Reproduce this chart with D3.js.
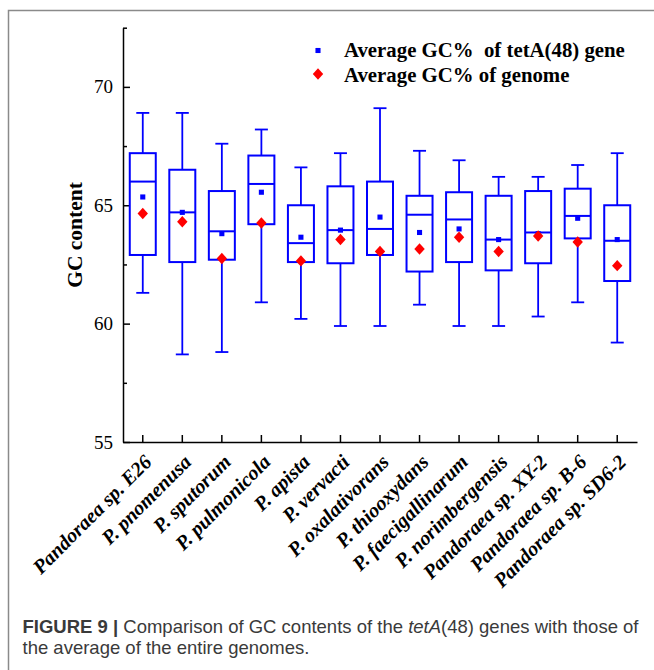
<html>
  <head>
    <title>GC content</title>
    <script src="https://cdnjs.cloudflare.com/ajax/libs/d3/7.8.5/d3.min.js"></script>
  </head>
  <body>
    <svg id="chart"></svg>

    <style>
      body {
        margin: 0;
        background: #fff;
      }

      #chart {
        display: block;
      }

      .axis path, .axis line {
        stroke: #000;
        stroke-width: 1.5px;
      }

      .axis text {
        font-family: 'Liberation Serif', 'Times New Roman', serif;
        fill: #000;
      }

      .axis-y text {
        font-size: 19px;
      }

      .axis-x text {
        font-size: 20.3px;
        font-weight: bold;
        font-style: italic;
      }

      .legend text, .ylabel {
        font-family: 'Liberation Serif', 'Times New Roman', serif;
        font-weight: bold;
        white-space: pre;
      }

      .caption {
        font-family: 'Liberation Sans', Arial, sans-serif;
        font-size: 18.5px;
        fill: #3a3a3a;
      }
    </style>

    <script>
      // Values
      const species = ['Pandoraea sp. E26', 'P. pnomenusa', 'P. sputorum', 'P. pulmonicola', 'P. apista',
        'P. vervacti', 'P. oxalativorans', 'P. thiooxydans', 'P. faecigallinarum', 'P. norimbergensis',
        'Pandoraea sp. XY-2', 'Pandoraea sp. B-6', 'Pandoraea sp. SD6-2'];
      const whiskerLow  = [61.3, 58.7, 58.8, 60.9, 60.2, 59.9, 59.9, 60.8, 59.9, 59.9, 60.3, 60.9, 59.2];
      const q1          = [62.9, 62.6, 62.7, 64.2, 62.6, 62.55, 62.9, 62.2, 62.6, 62.25, 62.55, 63.6, 61.8];
      const median      = [66.0, 64.7, 63.9, 65.9, 63.4, 63.95, 64.0, 64.6, 64.4, 63.55, 63.85, 64.55, 63.5];
      const q3          = [67.2, 66.5, 65.6, 67.1, 65.0, 65.8, 66.0, 65.4, 65.55, 65.4, 65.6, 65.7, 65.0];
      const whiskerHigh = [68.9, 68.9, 67.6, 68.2, 66.6, 67.2, 69.1, 67.3, 66.9, 66.2, 66.2, 66.7, 67.2];
      const meanGene    = [65.35, 64.7, 63.8, 65.55, 63.65, 63.95, 64.5, 63.85, 64.0, 63.55, 63.8, 64.45, 63.55];
      const meanGenome  = [64.65, 64.3, 62.75, 64.25, 62.65, 63.55, 63.05, 63.15, 63.65, 63.05, 63.7, 63.45, 62.45];

      const yMajorTicks = [55, 60, 65, 70];
      const yMinorTicks = [57.5, 62.5, 67.5, 72.5];
      const legendLabels = ['Average GC%  of tetA(48) gene', 'Average GC% of genome'];

      const boxes = species.map((s, i) => ({
        name: s,
        low: whiskerLow[i],
        q1: q1[i],
        median: median[i],
        q3: q3[i],
        high: whiskerHigh[i],
        gene: meanGene[i],
        genome: meanGenome[i]
      }));

      const W = 654, H = 670;
      const blue = '#0000ff', red = '#ff0000';

      const svg = d3.select('#chart')
        .attr('width', W)
        .attr('height', H);

      // Figure frame
      svg.append('path')
        .attr('d', 'M8.5,' + H + 'V10.5H' + W)
        .attr('fill', 'none')
        .attr('stroke', '#8a8a8a')
        .attr('stroke-width', 1.5);

      const x = d3.scaleBand().domain(species).range([123, 637]);
      const y = d3.scaleLinear().domain([55, 72.5]).range([442, 27.7]);

      const boxW = 26, capW = 13;

      // Axes
      svg.append('g')
        .attr('class', 'axis axis-y')
        .attr('transform', 'translate(123,0)')
        .call(d3.axisLeft(y).tickValues(yMajorTicks).tickSizeInner(-7).tickSizeOuter(0).tickPadding(10));

      svg.append('g')
        .attr('class', 'axis axis-y-minor')
        .attr('transform', 'translate(123,0)')
        .call(d3.axisLeft(y).tickValues(yMinorTicks).tickSizeInner(-4).tickSizeOuter(0).tickFormat(''))
        .select('.domain').remove();

      const xAxis = svg.append('g')
        .attr('class', 'axis axis-x')
        .attr('transform', 'translate(0,442)')
        .call(d3.axisBottom(x).tickSizeInner(-7).tickSizeOuter(0));

      xAxis.selectAll('text')
        .attr('text-anchor', 'end')
        .attr('y', 0)
        .attr('dy', '0.71em')
        .attr('transform', 'translate(0,11) rotate(-45)');

      // Y label
      svg.append('text')
        .attr('class', 'ylabel')
        .attr('transform', 'translate(82,235) rotate(-90)')
        .attr('text-anchor', 'middle')
        .style('font-size', '21.5px')
        .text('GC content');

      // Boxes
      const g = svg.append('g')
        .selectAll('g')
        .data(boxes)
        .enter().append('g')
        .attr('transform', d => 'translate(' + (x(d.name) + x.bandwidth() / 2) + ',0)')
        .attr('stroke', blue)
        .attr('fill', 'none');

      g.append('line')
        .attr('x1', 0).attr('x2', 0)
        .attr('y1', d => y(d.high))
        .attr('y2', d => y(d.q3))
        .attr('stroke-width', 1.8);

      g.append('line')
        .attr('x1', 0).attr('x2', 0)
        .attr('y1', d => y(d.q1))
        .attr('y2', d => y(d.low))
        .attr('stroke-width', 1.8);

      g.append('line')
        .attr('x1', -capW / 2).attr('x2', capW / 2)
        .attr('y1', d => y(d.high))
        .attr('y2', d => y(d.high))
        .attr('stroke-width', 1.8);

      g.append('line')
        .attr('x1', -capW / 2).attr('x2', capW / 2)
        .attr('y1', d => y(d.low))
        .attr('y2', d => y(d.low))
        .attr('stroke-width', 1.8);

      g.append('rect')
        .attr('x', -boxW / 2)
        .attr('width', boxW)
        .attr('y', d => y(d.q3))
        .attr('height', d => y(d.q1) - y(d.q3))
        .attr('stroke-width', 2);

      g.append('line')
        .attr('x1', -boxW / 2).attr('x2', boxW / 2)
        .attr('y1', d => y(d.median))
        .attr('y2', d => y(d.median))
        .attr('stroke-width', 2);

      // Means: small square for the gene, diamond for the genome
      const square = d3.symbol().type(d3.symbolSquare).size(26);
      const diamond = d3.symbol().type(d3.symbolSquare).size(54);

      g.append('path')
        .attr('d', square)
        .attr('transform', d => 'translate(0,' + y(d.gene) + ')')
        .attr('fill', blue)
        .attr('stroke', 'none');

      g.append('path')
        .attr('d', diamond)
        .attr('transform', d => 'translate(0,' + y(d.genome) + ') scale(1,1.1) rotate(45)')
        .attr('fill', red)
        .attr('stroke', 'none');

      // Legend
      const legend = svg.append('g').attr('class', 'legend');

      legend.append('path')
        .attr('d', square)
        .attr('transform', 'translate(318,50.5)')
        .attr('fill', blue);

      legend.append('path')
        .attr('d', diamond)
        .attr('transform', 'translate(318,74) scale(1,1.1) rotate(45)')
        .attr('fill', red);

      legend.selectAll('text')
        .data(legendLabels)
        .enter().append('text')
        .attr('x', 344)
        .attr('y', (d, i) => 57 + i * 24.7)
        .style('font-size', '20.8px')
        .text(d => d);

      // Caption
      const caption = svg.append('text')
        .attr('class', 'caption')
        .attr('x', 22.5)
        .attr('y', 633);

      caption.append('tspan').style('font-weight', 'bold').text('FIGURE 9 | ');
      caption.append('tspan').text('Comparison of GC contents of the ');
      caption.append('tspan').style('font-style', 'italic').text('tetA');
      caption.append('tspan').text('(48) genes with those of');

      svg.append('text')
        .attr('class', 'caption')
        .attr('x', 22.5)
        .attr('y', 654)
        .text('the average of the entire genomes.');
    </script>
  </body>
</html>
